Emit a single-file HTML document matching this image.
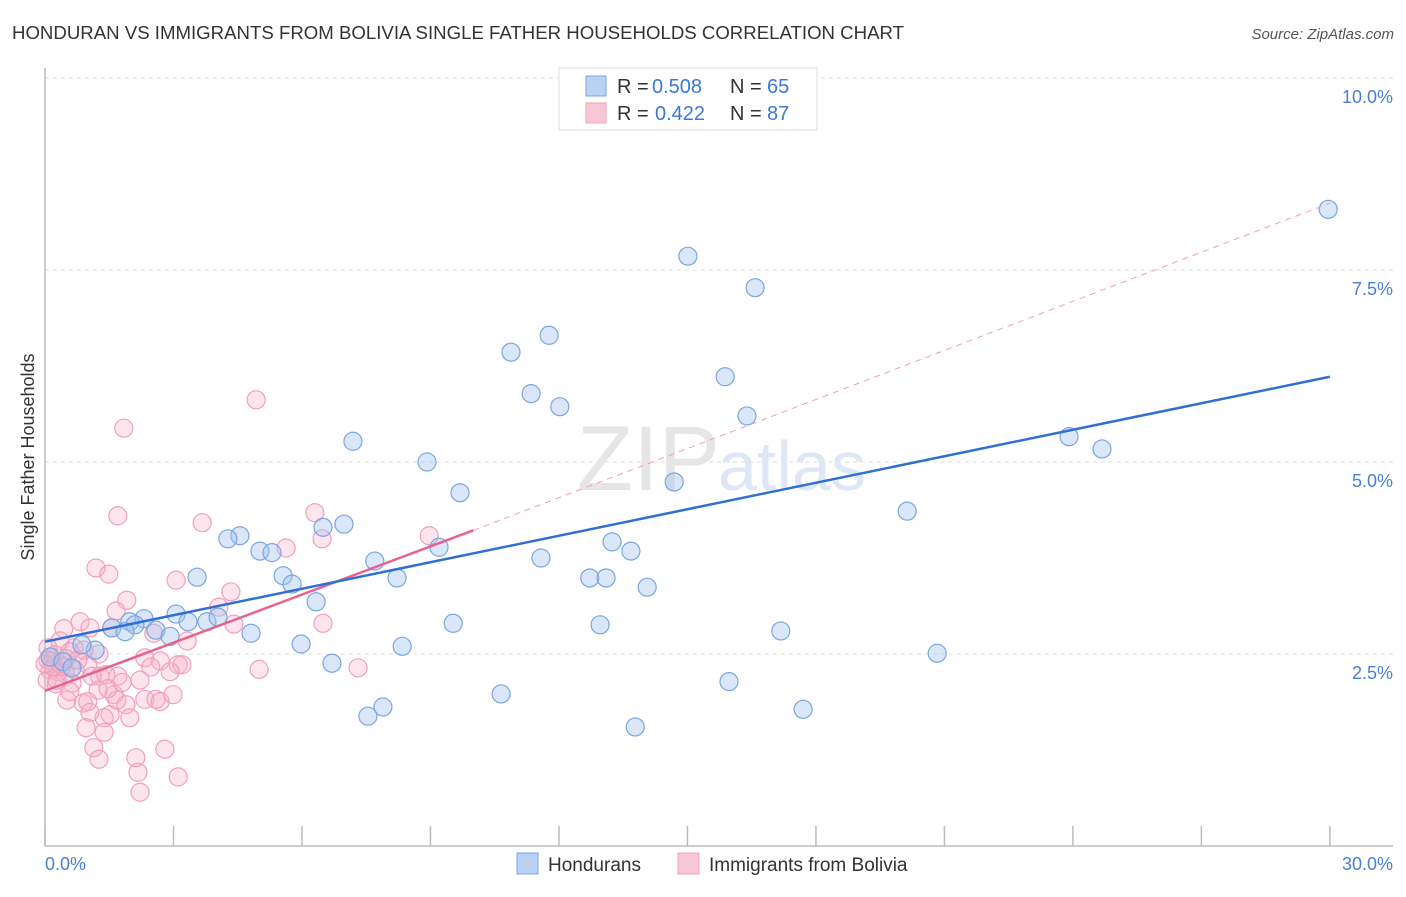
<!DOCTYPE html>
<html><head><meta charset="utf-8"><style>
body{margin:0;background:#fff;font-family:"Liberation Sans",sans-serif;}
svg text{font-family:"Liberation Sans",sans-serif;}
</style></head><body>
<svg id="chart" width="1406" height="892" viewBox="0 0 1406 892">
<text x="12" y="39" font-size="18" fill="#333" textLength="892" lengthAdjust="spacingAndGlyphs">HONDURAN VS IMMIGRANTS FROM BOLIVIA SINGLE FATHER HOUSEHOLDS CORRELATION CHART</text>
<text x="1394" y="39" font-size="15" fill="#555" font-style="italic" text-anchor="end">Source: ZipAtlas.com</text>
<text transform="translate(34,457) rotate(-90)" font-size="18" fill="#333" text-anchor="middle">Single Father Households</text>
<g id="grid"></g>
<text x="720" y="490" font-size="92" fill="#e6e6e6" text-anchor="end" font-family="Liberation Serif">ZIP</text>
<text x="718" y="490" font-size="70" fill="#dde7f5">atlas</text>
<g id="pts"></g>
<g id="lines"></g>
<g>
<rect x="559" y="68" width="258" height="62" fill="#fff" stroke="#ddd"/>
<rect x="586" y="76" width="20" height="20" fill="#b8d2f3" stroke="#7aa6e0"/>
<text x="617" y="93" font-size="20" fill="#333">R =</text>
<text x="652" y="93" font-size="20" fill="#3a78d8">0.508</text>
<text x="730" y="93" font-size="20" fill="#333">N =</text>
<text x="767" y="93" font-size="20" fill="#3a78d8">65</text>
<rect x="586" y="103" width="20" height="20" fill="#f9c6d6" stroke="#f0a0bc"/>
<text x="617" y="120" font-size="20" fill="#333">R =</text>
<text x="655" y="120" font-size="20" fill="#3a78d8">0.422</text>
<text x="730" y="120" font-size="20" fill="#333">N =</text>
<text x="767" y="120" font-size="20" fill="#3a78d8">87</text>
</g>
<g>
<rect x="517" y="853" width="21" height="21" fill="#b8d2f3" stroke="#7aa6e0"/>
<text x="548" y="871" font-size="19" fill="#333">Hondurans</text>
<rect x="678" y="853" width="21" height="21" fill="#f9c6d6" stroke="#f0a0bc"/>
<text x="709" y="871" font-size="19" fill="#333">Immigrants from Bolivia</text>
</g>
</svg>
<script>
const xTicks=[0,3,6,9,12,15,18,21,24,27,30];
const yTicks=[2.5,5,7.5,10];
const yTickLabels=["2.5%","5.0%","7.5%","10.0%"];
const hondX=[29.96,15.01,16.58,11.77,10.88,15.88,11.35,12.02,16.39,7.19,23.91,24.68,8.92,9.69,14.69,20.13,6.49,6.98,4.55,4.27,5.02,5.30,9.20,13.24,13.68,7.70,11.58,5.56,5.77,8.22,12.72,13.10,14.06,3.55,6.33,3.06,2.31,1.98,3.34,3.78,4.04,1.56,2.10,2.59,1.87,2.92,4.81,9.53,12.96,17.18,5.98,8.34,20.83,1.17,0.86,6.70,0.12,0.42,0.63,10.65,15.97,7.89,7.54,17.70,13.78];
const hondY=[8.29,7.68,7.27,6.65,6.43,6.11,5.89,5.72,5.60,5.27,5.33,5.17,5.00,4.60,4.74,4.36,4.15,4.19,4.04,4.00,3.84,3.82,3.89,3.96,3.84,3.71,3.75,3.52,3.41,3.49,3.49,3.49,3.37,3.50,3.18,3.02,2.96,2.92,2.92,2.92,2.98,2.84,2.88,2.81,2.79,2.73,2.77,2.90,2.88,2.80,2.63,2.60,2.51,2.55,2.62,2.38,2.46,2.40,2.32,1.98,2.14,1.81,1.69,1.78,1.55];
const bolX=[4.93,1.84,1.70,3.67,6.30,6.47,5.63,8.97,1.19,1.49,3.06,4.34,1.91,4.06,1.66,1.56,2.54,0.44,4.41,6.49,0.82,1.05,0.35,0.07,0.23,0.58,1.26,2.33,2.69,3.32,3.11,3.20,2.47,5.00,7.31,1.00,0.70,0.12,0.30,0.47,1.28,1.70,1.42,2.92,0.05,0.26,0.63,1.24,1.61,0.51,0.89,1.00,1.68,1.89,2.33,2.59,2.69,2.99,0.58,1.52,1.38,1.98,1.05,0.96,1.38,1.14,1.26,2.12,2.80,2.17,3.11,2.22,0.16,0.35,0.07,0.28,0.68,0.91,0.40,0.19,0.49,0.00,0.77,1.10,1.47,1.80,2.22];
const bolY=[5.81,5.44,4.30,4.21,4.34,4.00,3.88,4.04,3.62,3.54,3.46,3.31,3.20,3.11,3.06,2.84,2.77,2.83,2.89,2.90,2.92,2.84,2.67,2.58,2.49,2.53,2.50,2.45,2.41,2.67,2.36,2.36,2.33,2.30,2.32,2.36,2.29,2.29,2.27,2.25,2.21,2.21,2.23,2.27,2.16,2.11,2.12,2.03,1.97,1.90,1.86,1.88,1.90,1.84,1.91,1.91,1.88,1.97,2.01,1.71,1.67,1.67,1.74,1.54,1.48,1.28,1.13,1.15,1.26,0.96,0.90,0.70,2.41,2.37,2.42,2.16,2.58,2.55,2.34,2.33,2.44,2.37,2.42,2.21,2.05,2.13,2.16];
const hondTrend=[2.66,6.11];
const bolTrend=[2.02,4.11,8.37];
const X=v=>45+v*42.83, Y=v=>846-v*76.8;
const NS="http://www.w3.org/2000/svg";
function mk(tag,attrs,parent){const e=document.createElementNS(NS,tag);for(const k in attrs)e.setAttribute(k,attrs[k]);document.getElementById(parent).appendChild(e);return e;}
yTicks.forEach((t,i)=>{
 const l=mk('line',{x1:45,x2:1393,y1:Y(t),y2:Y(t),stroke:'#ddd','stroke-dasharray':'4,4'},'grid');
 
 
 const tx=mk('text',{x:1393,y:Y(t)+25,'font-size':18,fill:'#4a7fd4','text-anchor':'end'},'grid');
 tx.textContent=yTickLabels[i];
 
 
});
let a=mk('line',{x1:45,x2:45,y1:68,y2:846,stroke:'#bbb','stroke-width':1.5},'grid');


a=mk('line',{x1:45,x2:1393,y1:846,y2:846,stroke:'#bbb','stroke-width':1.5},'grid');


xTicks.forEach(t=>{
 const l=mk('line',{x1:X(t),x2:X(t),y1:826,y2:846,stroke:'#bbb','stroke-width':1.5},'grid');
 
 
});
let t0=mk('text',{x:45,y:870,'font-size':18,fill:'#4a7fd4'},'grid');t0.textContent='0.0%';


t0=mk('text',{x:1393,y:870,'font-size':18,fill:'#4a7fd4','text-anchor':'end'},'grid');t0.textContent='30.0%';


bolX.forEach((v,i)=>{
 const c=mk('circle',{cx:X(v),cy:Y(bolY[i]),r:9,fill:'rgba(248,175,200,0.33)',stroke:'#f0a0bc','stroke-width':1.2},'pts');
 
 
});
hondX.forEach((v,i)=>{
 const c=mk('circle',{cx:X(v),cy:Y(hondY[i]),r:9,fill:'rgba(160,195,240,0.4)',stroke:'#7aa6e0','stroke-width':1.2},'pts');
 
 
});
let ln=mk('line',{x1:X(10),y1:Y(bolTrend[1]),x2:X(30),y2:Y(bolTrend[2]),stroke:'#eda0b8','stroke-width':1,'stroke-dasharray':'6,5'},'lines');


ln=mk('line',{x1:X(0),y1:Y(bolTrend[0]),x2:X(10),y2:Y(bolTrend[1]),stroke:'#e8628e','stroke-width':2.5},'lines');


ln=mk('line',{x1:X(0),y1:Y(hondTrend[0]),x2:X(30),y2:Y(hondTrend[1]),stroke:'#2f6fd6','stroke-width':2.5},'lines');


</script>
</body></html>
